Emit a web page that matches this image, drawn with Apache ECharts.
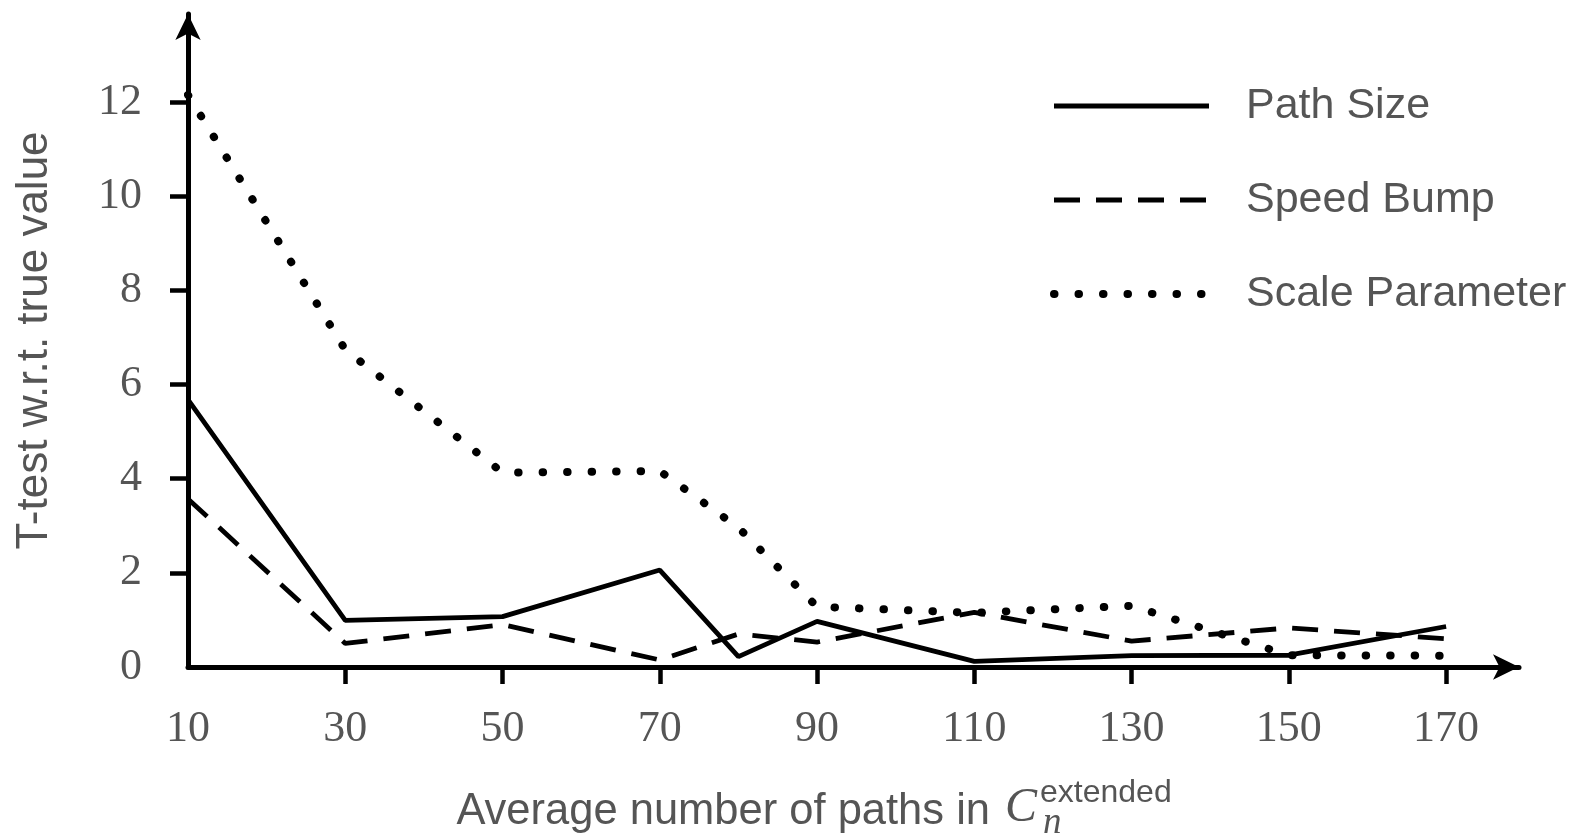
<!DOCTYPE html>
<html><head><meta charset="utf-8">
<script src="https://cdn.jsdelivr.net/npm/echarts@6/dist/echarts.min.js"></script>
<style>html,body{margin:0;padding:0;background:#fff}#c{width:1586px;height:833px}</style>
</head><body><div id="c"></div>
<script>
const xValues = [10, 30, 50, 70, 80, 90, 110, 130, 150, 170];
const pathSize = [5.68, 0.99, 1.07, 2.06, 0.22, 0.97, 0.12, 0.24, 0.25, 0.86];
const speedBump = [3.57, 0.5, 0.9, 0.15, 0.7, 0.53, 1.16, 0.55, 0.83, 0.6];
const scaleParam = [12.15, 6.74, 4.13, 4.16, 2.96, 1.28, 1.15, 1.3, 0.25, 0.24];
const xTickLabels = [10, 30, 50, 70, 90, 110, 130, 150, 170];
const xTicks = [30, 50, 70, 90, 110, 130, 150, 170];
const yTickLabels = [0, 2, 4, 6, 8, 10, 12];
const yTicks = [2, 4, 6, 8, 10, 12];
const seriesNames = ['Path Size', 'Speed Bump', 'Scale Parameter'];

const toPts = arr => xValues.map((x, i) => [x, arr[i]]);
const txt = '#555555';
const sans = 'Liberation Sans, Arial, sans-serif';
const serif = 'Liberation Serif, Times New Roman, serif';

const chart = echarts.init(document.getElementById('c'), null, {renderer: 'canvas'});
chart.setOption({
  animation: false,
  backgroundColor: '#fff',
  grid: {left: 188, right: 67, top: 14, bottom: 166, containLabel: false},
  xAxis: {
    type: 'value', min: 10, max: 179.27,
    axisLine: {lineStyle: {color: '#000', width: 5}, symbol: ['none', 'arrow'], symbolSize: [19, 26]},
    axisTick: {show: true, customValues: xTicks, length: 17, lineStyle: {color: '#000', width: 4.5}},
    axisLabel: {customValues: xTickLabels, margin: 40, color: txt, fontFamily: serif, fontSize: 44},
    splitLine: {show: false}
  },
  yAxis: {
    type: 'value', min: 0, max: 13.87, interval: 2,
    name: 'T-test w.r.t. true value', nameLocation: 'middle', nameGap: 131,
    nameTextStyle: {color: txt, fontFamily: sans, fontSize: 44},
    axisLine: {lineStyle: {color: '#000', width: 5}, symbol: ['none', 'arrow'], symbolSize: [19, 26]},
    axisTick: {show: true, customValues: yTicks, length: 18, lineStyle: {color: '#000', width: 4.5}},
    axisLabel: {customValues: yTickLabels, margin: 46, color: txt, fontFamily: serif, fontSize: 44},
    splitLine: {show: false}
  },
  legend: {
    orient: 'vertical', left: 1045, top: 74, itemWidth: 155, itemHeight: 20, itemGap: 40,
    data: seriesNames,
    itemStyle: {color: 'rgba(0,0,0,0)', borderWidth: 0},
    lineStyle: {width: 'inherit', type: 'inherit', color: '#000'},
    textStyle: {color: txt, fontFamily: sans, fontSize: 43, lineHeight: 54, padding: [0, 0, 0, 32]}
  },
  series: [
    {name: seriesNames[0], type: 'line', data: toPts(pathSize), symbol: 'none', color: '#000',
     lineStyle: {color: '#000', width: 4.8, type: 'solid'}},
    {name: seriesNames[1], type: 'line', data: toPts(speedBump), symbol: 'none', color: '#000',
     lineStyle: {color: '#000', width: 4.8, type: [26, 16]}},
    {name: seriesNames[2], type: 'line', data: toPts(scaleParam), symbol: 'none', color: '#000',
     lineStyle: {color: '#000', width: 8, type: [0.5, 24], cap: 'round'}}
  ],
  graphic: [
    {type: 'text', right: 1586 - 990, top: 790, style: {text: 'Average number of paths in', fill: txt, font: '43.5px ' + sans}},
    {type: 'text', left: 1005, top: 784, style: {text: 'C', fill: txt, font: 'italic 48px ' + serif}},
    {type: 'text', left: 1040, top: 777, style: {text: 'extended', fill: txt, font: '32px ' + sans}},
    {type: 'text', left: 1043, top: 805, style: {text: 'n', fill: txt, font: 'italic 37px ' + serif}}
  ]
});
</script></body></html>
